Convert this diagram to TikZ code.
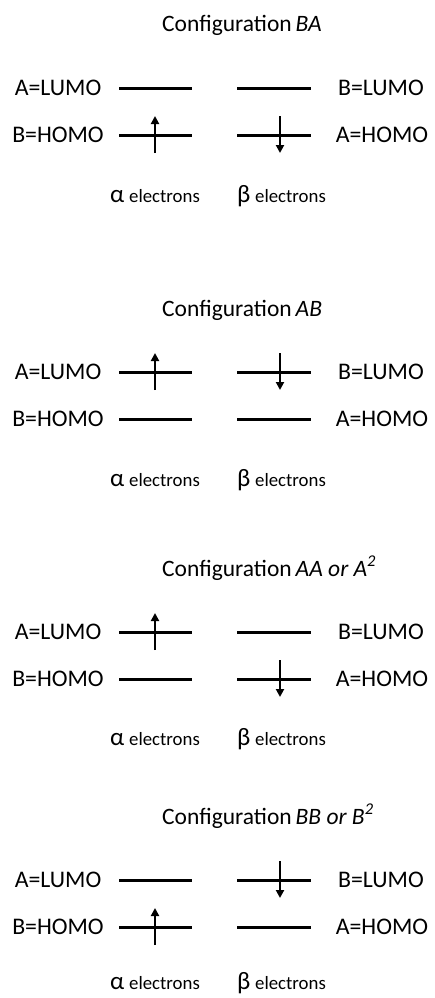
\documentclass[tikz,border=0pt]{standalone}
\usepackage{fontspec}
\setmainfont{Carlito}
\usetikzlibrary{arrows.meta}
\tikzset{
 level/.style={line width=3pt},
 spin/.style={line width=2.8pt,-{Triangle[length=8pt,width=8pt]}},
 lbl/.style={font=\fontsize{23.8}{26}\selectfont, inner sep=0pt, anchor=center},
 ttl/.style={font=\fontsize{23.5}{26}\selectfont, anchor=base west, inner sep=0pt},
 elec/.style={font=\fontsize{18.8}{22}\selectfont, anchor=base west, inner sep=0pt},
 greek/.style={font=\fontsize{25}{28}\selectfont, anchor=base west, inner sep=0pt}
}
\begin{document}
\begin{tikzpicture}[x=1pt,y=-1pt]
\useasboundingbox (0,0) rectangle (435,998);
\foreach \i/\y/\t/\ay/\by/\ey in {1/88/{BA}/47/47/114, 2/372/{AB}/0/0/114, 3/632/{AA or A\textsuperscript{2}}/0/47/113, 4/880/{BB or B\textsuperscript{2}}/47/0/109} {
  % title
  \node[ttl] (title\i) at (162,{\y-56}) {Configuration\,\textit{\t}};
  % side labels
  \node[lbl] (lumoA\i) at (58,{\y}) {A=LUMO};
  \node[lbl] (homoB\i) at (58,{\y+47}) {B=HOMO};
  \node[lbl] (lumoB\i) at (381,{\y}) {B=LUMO};
  \node[lbl] (homoA\i) at (382,{\y+47}) {A=HOMO};
  % levels
  \coordinate (la1\i) at (119,{\y});    \coordinate (la2\i) at (192,{\y});
  \coordinate (ra1\i) at (237,{\y});    \coordinate (ra2\i) at (311,{\y});
  \coordinate (lb1\i) at (119,{\y+47}); \coordinate (lb2\i) at (192,{\y+47});
  \coordinate (rb1\i) at (237,{\y+47}); \coordinate (rb2\i) at (311,{\y+47});
  \draw[level] (la1\i) -- (la2\i);
  \draw[level] (ra1\i) -- (ra2\i);
  \draw[level] (lb1\i) -- (lb2\i);
  \draw[level] (rb1\i) -- (rb2\i);
  % spins
  \coordinate (as\i) at (155,{\y+\ay+18});
  \coordinate (ae\i) at (155,{\y+\ay-19});
  \coordinate (bs\i) at (280,{\y+\by-19});
  \coordinate (be\i) at (280,{\y+\by+18});
  \draw[spin] (as\i) -- (ae\i);
  \draw[spin] (bs\i) -- (be\i);
  % electron labels
  \node[greek] (alpha\i) at (110,{\y+\ey}) {α};
  \node[elec] (aelec\i) at (129,{\y+\ey}) {electrons};
  \node[greek] (beta\i) at (237,{\y+\ey}) {β};
  \node[elec] (belec\i) at (255,{\y+\ey}) {electrons};
}
\end{tikzpicture}
\end{document}
